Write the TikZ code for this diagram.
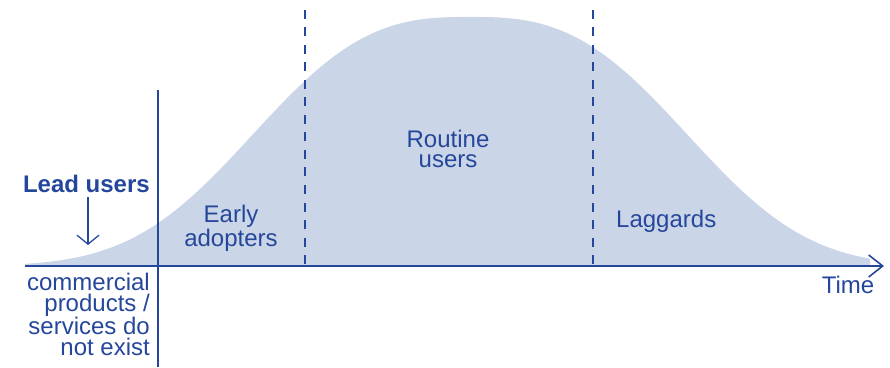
\documentclass[tikz,border=0pt]{standalone}
\usepackage{fontspec}
\setmainfont{Liberation Sans}
\usetikzlibrary{arrows.meta}
\definecolor{inkblue}{HTML}{25479B}
\definecolor{bellfill}{HTML}{CBD5E8}
\tikzset{
  lbl/.style={inner sep=0pt, text=inkblue, font=\fontsize{24}{20.5}\selectfont},
  axisline/.style={draw=inkblue, line width=1.9pt},
  divider/.style={draw=inkblue, line width=2pt, dash pattern=on 9pt off 8.5pt},
  chev/.style={-{Straight Barb[length=14pt, width=22pt, line width=1.6pt]}},
}
\begin{document}
\begin{tikzpicture}[x=1pt, y=1pt]
  \useasboundingbox (0,0) rectangle (890,367);

  % adoption bell curve
  \fill[bellfill] (25,101)
    -- plot[domain=25:870, samples=181]
       (\x, {101 + 249*exp(-pow((abs(\x-470)+0.01)/255, 2.8))})
    -- (870,101) -- cycle;

  % axes and dividers
  \coordinate (origin) at (25,101);
  \coordinate (tend) at (884,101);
  \coordinate (vtop) at (158,277);
  \coordinate (vbot) at (158,0);
  \draw[axisline, chev] (origin) -- (tend);
  \draw[axisline] (vtop) -- (vbot);

  \coordinate (d1top) at (305,357);
  \coordinate (d1bot) at (305,101);
  \coordinate (d2top) at (592.5,357);
  \coordinate (d2bot) at (592.5,101);
  \draw[divider] (d1top) -- (d1bot);
  \draw[divider] (d2top) -- (d2bot);

  % labels (multi-line nodes are placed by the baseline of their last line)
  \node[lbl, anchor=base east, font=\bfseries\fontsize{24}{20.5}\selectfont] (lead) at (150,175) {Lead users};
  \coordinate (leadtail) at (88,170);
  \coordinate (leadtip) at (88,122);
  \draw[draw=inkblue, line width=1.3pt, -{Straight Barb[length=9pt, width=22pt, line width=1.3pt]}] (leadtail) -- (leadtip);

  \node[lbl, anchor=base east, align=right] (nocom) at (150,12)
    {commercial\\products /\\services do\\not exist};

  \node[lbl, anchor=base, align=center] (early) at (231,121) {Early\\adopters};
  \node[lbl, anchor=base, align=center] (routine) at (448,199) {Routine\\users};
  \node[lbl, anchor=base west] (lag) at (616,140) {Laggards};
  \node[lbl, anchor=base] (time) at (848,74) {Time};
\end{tikzpicture}
\end{document}
